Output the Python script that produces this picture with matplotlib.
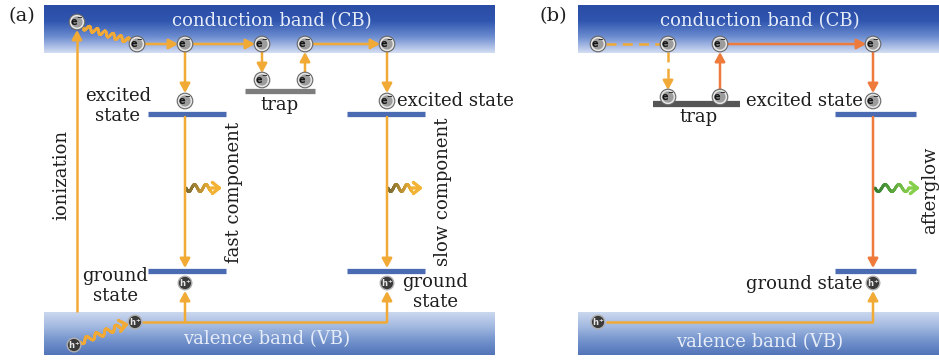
import matplotlib.pyplot as plt
import numpy as np
from matplotlib.colors import LinearSegmentedColormap, to_rgb
from matplotlib.patches import Circle
from matplotlib.collections import LineCollection

# labels drawn on the two energy diagrams
panel_labels = ['(a)', '(b)']
band_names = ['conduction band (CB)', 'valence band (VB)']
state_names = ['excited\nstate', 'ground\nstate', 'excited state', 'ground state']
trap_name = 'trap'
process_names = ['ionization', 'fast component', 'slow component', 'afterglow']

GOLD = '#f1aa36'
ORANGE = '#ee7a3c'
LEVEL = '#4a6bb2'
TEXT = '#1e1e1e'
FS = 13

plt.rcParams['font.family'] = ['DejaVu Serif']

fig = plt.figure(figsize=(9.39, 3.6), dpi=100)
ax = fig.add_axes([0, 0, 1, 1])

cb_cmap = LinearSegmentedColormap.from_list('cb', ['#2a4ca5', '#3056b0', '#6d8dd0', '#d3ddf3'])
vb_cmap = LinearSegmentedColormap.from_list('vb', ['#cad7ee', '#a3b9e1', '#7393cc', '#5275b9'])


def band(x0, x1, y0, y1, cmap, label, tx, ty):
    grad = np.linspace(0, 1, 100).reshape(-1, 1)
    ax.imshow(grad, cmap=cmap, extent=(x0, x1, y1, y0), aspect='auto', zorder=1)
    ax.text(tx, ty, label, color='#e6ecf8', fontsize=FS, ha='center', va='center', zorder=2)


def electron(x, y):
    ax.add_patch(Circle((x, y), 7.8, fc='#e6e6e6', ec='#666666', lw=0.8, zorder=5))
    ax.add_patch(Circle((x, y), 5.6, fc='#9c9c9c', ec='none', zorder=5))
    ax.text(x, y + 0.5, r'$\mathbf{e^{-}}$', fontsize=7, ha='center', va='center',
            color='#151515', zorder=6)


def hole(x, y):
    ax.add_patch(Circle((x, y), 6.8, fc='#3a3a3a', ec='#b0b0b0', lw=1, zorder=5))
    ax.text(x, y + 0.5, r'$\mathbf{h^{+}}$', fontsize=6, ha='center', va='center',
            color='#e8e8e8', zorder=6)


def arrow(x0, y0, x1, y1, color=GOLD):
    ax.annotate('', xy=(x1, y1), xytext=(x0, y0), zorder=4,
                arrowprops=dict(arrowstyle='-|>,head_length=0.55,head_width=0.3',
                                color=color, lw=1.8, shrinkA=0, shrinkB=0))


def dashed_arrow(x0, y0, x1, y1, color=GOLD, head=True):
    if head:
        # dashed shaft, then a short solid piece carrying the head
        fx = x0 + (x1 - x0) * 0.85
        fy = y0 + (y1 - y0) * 0.85
        ax.plot([x0, fx], [y0, fy], color=color, lw=1.8, ls=(0, (4, 2.5)), zorder=3)
        arrow(fx, fy, x1, y1, color)
    else:
        ax.plot([x0, x1], [y0, y1], color=color, lw=1.8, ls=(0, (4, 2.5)), zorder=3)


def line(xs, ys, color=GOLD):
    ax.plot(xs, ys, color=color, lw=1.8, zorder=3, solid_capstyle='butt')


def level(x0, x1, y, color=LEVEL, lw=3.8):
    ax.plot([x0, x1], [y, y], color=color, lw=lw, solid_capstyle='butt', zorder=3)


def wave(x0, y0, x1, y1, n, amp, c0, c1, head=None):
    t = np.linspace(0, 1, 240)
    dx, dy = x1 - x0, y1 - y0
    length = np.hypot(dx, dy)
    nx, ny = -dy / length, dx / length
    off = amp * np.sin(2 * np.pi * n * t)
    xs = x0 + dx * t + nx * off
    ys = y0 + dy * t + ny * off
    pts = np.column_stack([xs, ys]).reshape(-1, 1, 2)
    segs = np.concatenate([pts[:-1], pts[1:]], axis=1)
    a, b = np.array(to_rgb(c0)), np.array(to_rgb(c1))
    cols = [a + (b - a) * s for s in t[:-1]]
    ax.add_collection(LineCollection(segs, colors=cols, lw=2, zorder=3, capstyle='round'))
    if head is not None:
        ax.annotate('', xy=head, xytext=(x1, y1), zorder=4,
                    arrowprops=dict(arrowstyle='->,head_length=0.5,head_width=0.4',
                                    color=c1, lw=2.4, shrinkA=0, shrinkB=0))


# ---------------- panel (a) ----------------
band(44, 495, 5, 53, cb_cmap, band_names[0], 272, 21)
band(44, 495, 312, 355, vb_cmap, band_names[1], 267, 339)
ax.text(22, 16, panel_labels[0], fontsize=14, ha='center', va='center', color=TEXT)

# ionization and thermalisation in the conduction band
line([77, 77], [312, 40])
arrow(77, 40, 77, 30)
wave(83, 27, 130, 41, 6, 2.6, GOLD, GOLD)
arrow(145, 44, 178, 44)
arrow(193, 44, 255, 44)
arrow(313, 44, 380, 44)
arrow(262, 52, 262, 73)
arrow(305, 72, 305, 52)
arrow(185, 52, 185, 93)
arrow(387, 52, 387, 93)

level(245, 315, 91, color='#7d7d7d')
level(148, 226, 114)
level(347, 425, 114)
level(148, 226, 271)
level(347, 425, 271)

arrow(185, 117, 185, 268)
arrow(387, 117, 387, 268)
wave(186, 188, 211, 188, 2.2, 3.5, '#6f6330', '#f2b233', head=(222, 188))
wave(388, 188, 412, 188, 2.2, 3.5, '#6f6330', '#f2b233', head=(423, 188))

# holes moving in the valence band
wave(80, 342, 124, 325, 4.5, 2.8, GOLD, GOLD, head=(129, 324))
line([142, 387], [322, 322])
arrow(185, 322, 185, 291)
arrow(387, 322, 387, 291)

for x, y in [(77, 22), (137, 44), (185, 44), (262, 44), (305, 44), (387, 44),
             (262, 80), (305, 80), (185, 101), (387, 101)]:
    electron(x, y)
for x, y in [(74, 345), (135, 322), (185, 283), (387, 283)]:
    hole(x, y)

ax.text(118, 106, state_names[0], fontsize=FS, ha='center', va='center',
        linespacing=1.1, color=TEXT)
ax.text(115, 286, state_names[1], fontsize=FS, ha='center', va='center',
        linespacing=1.1, color=TEXT)
ax.text(435, 292, state_names[1], fontsize=FS, ha='center', va='center',
        linespacing=1.1, color=TEXT)
ax.text(397, 101, state_names[2], fontsize=FS, ha='left', va='center', color=TEXT)
ax.text(279, 105, trap_name, fontsize=FS, ha='center', va='center', color=TEXT)
ax.text(61, 175, process_names[0], fontsize=FS, rotation=90, ha='center', va='center', color=TEXT)
ax.text(234, 192, process_names[1], fontsize=FS, rotation=90, ha='center', va='center', color=TEXT)
ax.text(443, 192, process_names[2], fontsize=FS, rotation=90, ha='center', va='center', color=TEXT)

# ---------------- panel (b) ----------------
band(578, 939, 5, 53, cb_cmap, band_names[0], 760, 21)
band(578, 939, 312, 355, vb_cmap, band_names[1], 760, 342)
ax.text(553, 16, panel_labels[1], fontsize=14, ha='center', va='center', color=TEXT)

dashed_arrow(606, 44, 660, 44, head=False)
dashed_arrow(668, 52, 668, 90)
arrow(720, 90, 720, 52, ORANGE)
arrow(728, 44, 866, 44, ORANGE)
arrow(873, 52, 873, 93, ORANGE)

level(653, 740, 104, color='#555555', lw=4.5)
level(835, 916, 114)
level(835, 916, 271)

arrow(873, 117, 873, 268, ORANGE)
wave(875, 188, 909, 188, 2.5, 3.5, '#2e7a30', '#86cf4a', head=(920, 188))

line([606, 873], [322, 322])
arrow(873, 322, 873, 291)

for x, y in [(598, 44), (668, 44), (720, 44), (873, 44), (668, 97), (720, 97), (873, 101)]:
    electron(x, y)
for x, y in [(598, 322), (873, 283)]:
    hole(x, y)

ax.text(863, 101, state_names[2], fontsize=FS, ha='right', va='center', color=TEXT)
ax.text(863, 284, state_names[3], fontsize=FS, ha='right', va='center', color=TEXT)
ax.text(698, 117, trap_name, fontsize=FS, ha='center', va='center', color=TEXT)
ax.text(930, 190, process_names[3], fontsize=FS, rotation=90, ha='center', va='center', color=TEXT)

ax.set_xlim(0, 939)
ax.set_ylim(360, 0)
ax.axis('off')

fig.savefig('out.png', dpi=100)
